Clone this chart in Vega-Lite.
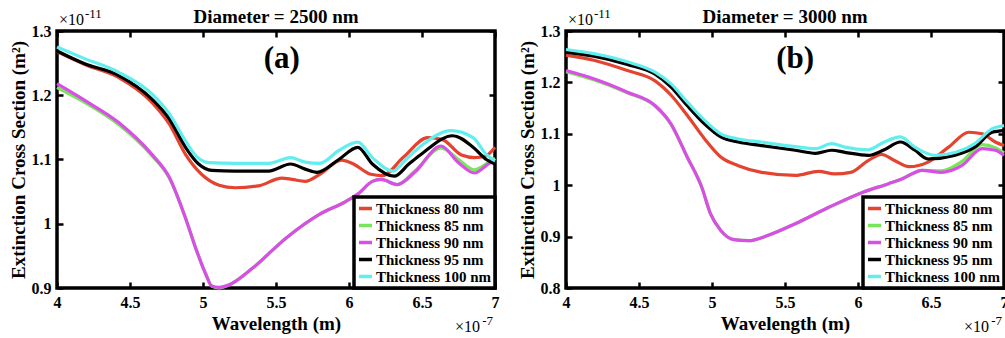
{
  "$schema": "https://vega.github.io/schema/vega-lite/v6.json",
  "padding": {"left": 7, "top": 6, "right": 0, "bottom": 0},
  "datasets": {
    "a": [
      {"s":"Thickness 80 nm","w":4.00,"v":1.268},{"s":"Thickness 80 nm","w":4.19,"v":1.248},{"s":"Thickness 80 nm","w":4.42,"v":1.228},{"s":"Thickness 80 nm","w":4.65,"v":1.189},{"s":"Thickness 80 nm","w":4.77,"v":1.155},{"s":"Thickness 80 nm","w":4.88,"v":1.108},{"s":"Thickness 80 nm","w":4.99,"v":1.077},{"s":"Thickness 80 nm","w":5.11,"v":1.060},{"s":"Thickness 80 nm","w":5.22,"v":1.056},{"s":"Thickness 80 nm","w":5.38,"v":1.059},{"s":"Thickness 80 nm","w":5.54,"v":1.071},{"s":"Thickness 80 nm","w":5.61,"v":1.069},{"s":"Thickness 80 nm","w":5.70,"v":1.066},{"s":"Thickness 80 nm","w":5.80,"v":1.077},{"s":"Thickness 80 nm","w":5.95,"v":1.099},{"s":"Thickness 80 nm","w":6.03,"v":1.093},{"s":"Thickness 80 nm","w":6.15,"v":1.077},{"s":"Thickness 80 nm","w":6.23,"v":1.075},{"s":"Thickness 80 nm","w":6.37,"v":1.103},{"s":"Thickness 80 nm","w":6.54,"v":1.134},{"s":"Thickness 80 nm","w":6.64,"v":1.131},{"s":"Thickness 80 nm","w":6.77,"v":1.107},{"s":"Thickness 80 nm","w":6.86,"v":1.103},{"s":"Thickness 80 nm","w":6.94,"v":1.106},{"s":"Thickness 80 nm","w":7.00,"v":1.119},
      {"s":"Thickness 85 nm","w":4.00,"v":1.212},{"s":"Thickness 85 nm","w":4.19,"v":1.189},{"s":"Thickness 85 nm","w":4.42,"v":1.155},{"s":"Thickness 85 nm","w":4.65,"v":1.106},{"s":"Thickness 85 nm","w":4.77,"v":1.071},{"s":"Thickness 85 nm","w":4.88,"v":1.009},{"s":"Thickness 85 nm","w":4.95,"v":0.962},{"s":"Thickness 85 nm","w":5.02,"v":0.921},{"s":"Thickness 85 nm","w":5.06,"v":0.903},{"s":"Thickness 85 nm","w":5.11,"v":0.900},{"s":"Thickness 85 nm","w":5.18,"v":0.905},{"s":"Thickness 85 nm","w":5.34,"v":0.931},{"s":"Thickness 85 nm","w":5.57,"v":0.978},{"s":"Thickness 85 nm","w":5.80,"v":1.015},{"s":"Thickness 85 nm","w":5.98,"v":1.035},{"s":"Thickness 85 nm","w":6.07,"v":1.048},{"s":"Thickness 85 nm","w":6.16,"v":1.066},{"s":"Thickness 85 nm","w":6.22,"v":1.069},{"s":"Thickness 85 nm","w":6.33,"v":1.061},{"s":"Thickness 85 nm","w":6.45,"v":1.082},{"s":"Thickness 85 nm","w":6.63,"v":1.118},{"s":"Thickness 85 nm","w":6.75,"v":1.100},{"s":"Thickness 85 nm","w":6.86,"v":1.084},{"s":"Thickness 85 nm","w":6.97,"v":1.098},{"s":"Thickness 85 nm","w":7.00,"v":1.102},
      {"s":"Thickness 90 nm","w":4.00,"v":1.218},{"s":"Thickness 90 nm","w":4.19,"v":1.192},{"s":"Thickness 90 nm","w":4.42,"v":1.158},{"s":"Thickness 90 nm","w":4.65,"v":1.108},{"s":"Thickness 90 nm","w":4.77,"v":1.072},{"s":"Thickness 90 nm","w":4.88,"v":1.009},{"s":"Thickness 90 nm","w":4.95,"v":0.962},{"s":"Thickness 90 nm","w":5.02,"v":0.921},{"s":"Thickness 90 nm","w":5.06,"v":0.903},{"s":"Thickness 90 nm","w":5.11,"v":0.901},{"s":"Thickness 90 nm","w":5.18,"v":0.905},{"s":"Thickness 90 nm","w":5.34,"v":0.931},{"s":"Thickness 90 nm","w":5.57,"v":0.978},{"s":"Thickness 90 nm","w":5.80,"v":1.015},{"s":"Thickness 90 nm","w":5.98,"v":1.035},{"s":"Thickness 90 nm","w":6.07,"v":1.048},{"s":"Thickness 90 nm","w":6.16,"v":1.066},{"s":"Thickness 90 nm","w":6.22,"v":1.069},{"s":"Thickness 90 nm","w":6.33,"v":1.061},{"s":"Thickness 90 nm","w":6.45,"v":1.080},{"s":"Thickness 90 nm","w":6.63,"v":1.121},{"s":"Thickness 90 nm","w":6.75,"v":1.095},{"s":"Thickness 90 nm","w":6.86,"v":1.079},{"s":"Thickness 90 nm","w":6.97,"v":1.095},{"s":"Thickness 90 nm","w":7.00,"v":1.097},
      {"s":"Thickness 95 nm","w":4.00,"v":1.269},{"s":"Thickness 95 nm","w":4.19,"v":1.249},{"s":"Thickness 95 nm","w":4.42,"v":1.231},{"s":"Thickness 95 nm","w":4.65,"v":1.194},{"s":"Thickness 95 nm","w":4.77,"v":1.163},{"s":"Thickness 95 nm","w":4.88,"v":1.119},{"s":"Thickness 95 nm","w":4.97,"v":1.093},{"s":"Thickness 95 nm","w":5.06,"v":1.083},{"s":"Thickness 95 nm","w":5.22,"v":1.082},{"s":"Thickness 95 nm","w":5.45,"v":1.082},{"s":"Thickness 95 nm","w":5.60,"v":1.093},{"s":"Thickness 95 nm","w":5.70,"v":1.085},{"s":"Thickness 95 nm","w":5.78,"v":1.080},{"s":"Thickness 95 nm","w":5.93,"v":1.100},{"s":"Thickness 95 nm","w":6.06,"v":1.119},{"s":"Thickness 95 nm","w":6.16,"v":1.093},{"s":"Thickness 95 nm","w":6.31,"v":1.074},{"s":"Thickness 95 nm","w":6.41,"v":1.093},{"s":"Thickness 95 nm","w":6.51,"v":1.111},{"s":"Thickness 95 nm","w":6.71,"v":1.137},{"s":"Thickness 95 nm","w":6.85,"v":1.119},{"s":"Thickness 95 nm","w":6.94,"v":1.100},{"s":"Thickness 95 nm","w":7.00,"v":1.093},
      {"s":"Thickness 100 nm","w":4.00,"v":1.275},{"s":"Thickness 100 nm","w":4.19,"v":1.257},{"s":"Thickness 100 nm","w":4.42,"v":1.236},{"s":"Thickness 100 nm","w":4.65,"v":1.202},{"s":"Thickness 100 nm","w":4.77,"v":1.171},{"s":"Thickness 100 nm","w":4.88,"v":1.129},{"s":"Thickness 100 nm","w":4.95,"v":1.106},{"s":"Thickness 100 nm","w":5.04,"v":1.095},{"s":"Thickness 100 nm","w":5.22,"v":1.094},{"s":"Thickness 100 nm","w":5.45,"v":1.094},{"s":"Thickness 100 nm","w":5.60,"v":1.103},{"s":"Thickness 100 nm","w":5.70,"v":1.096},{"s":"Thickness 100 nm","w":5.80,"v":1.094},{"s":"Thickness 100 nm","w":5.93,"v":1.114},{"s":"Thickness 100 nm","w":6.06,"v":1.127},{"s":"Thickness 100 nm","w":6.16,"v":1.103},{"s":"Thickness 100 nm","w":6.30,"v":1.082},{"s":"Thickness 100 nm","w":6.39,"v":1.100},{"s":"Thickness 100 nm","w":6.51,"v":1.124},{"s":"Thickness 100 nm","w":6.70,"v":1.145},{"s":"Thickness 100 nm","w":6.85,"v":1.134},{"s":"Thickness 100 nm","w":6.94,"v":1.108},{"s":"Thickness 100 nm","w":7.00,"v":1.098}
    ],
    "b": [
      {"s":"Thickness 80 nm","w":4.00,"v":1.253},{"s":"Thickness 80 nm","w":4.19,"v":1.243},{"s":"Thickness 80 nm","w":4.42,"v":1.223},{"s":"Thickness 80 nm","w":4.61,"v":1.203},{"s":"Thickness 80 nm","w":4.72,"v":1.175},{"s":"Thickness 80 nm","w":4.83,"v":1.136},{"s":"Thickness 80 nm","w":4.95,"v":1.090},{"s":"Thickness 80 nm","w":5.06,"v":1.055},{"s":"Thickness 80 nm","w":5.18,"v":1.038},{"s":"Thickness 80 nm","w":5.34,"v":1.025},{"s":"Thickness 80 nm","w":5.57,"v":1.019},{"s":"Thickness 80 nm","w":5.73,"v":1.027},{"s":"Thickness 80 nm","w":5.84,"v":1.022},{"s":"Thickness 80 nm","w":5.95,"v":1.025},{"s":"Thickness 80 nm","w":6.07,"v":1.048},{"s":"Thickness 80 nm","w":6.16,"v":1.060},{"s":"Thickness 80 nm","w":6.25,"v":1.048},{"s":"Thickness 80 nm","w":6.35,"v":1.036},{"s":"Thickness 80 nm","w":6.48,"v":1.045},{"s":"Thickness 80 nm","w":6.62,"v":1.074},{"s":"Thickness 80 nm","w":6.76,"v":1.103},{"s":"Thickness 80 nm","w":6.85,"v":1.100},{"s":"Thickness 80 nm","w":6.94,"v":1.084},{"s":"Thickness 80 nm","w":7.00,"v":1.077},
      {"s":"Thickness 85 nm","w":4.00,"v":1.221},{"s":"Thickness 85 nm","w":4.19,"v":1.205},{"s":"Thickness 85 nm","w":4.42,"v":1.180},{"s":"Thickness 85 nm","w":4.61,"v":1.154},{"s":"Thickness 85 nm","w":4.72,"v":1.118},{"s":"Thickness 85 nm","w":4.83,"v":1.055},{"s":"Thickness 85 nm","w":4.93,"v":0.996},{"s":"Thickness 85 nm","w":4.99,"v":0.944},{"s":"Thickness 85 nm","w":5.06,"v":0.912},{"s":"Thickness 85 nm","w":5.15,"v":0.894},{"s":"Thickness 85 nm","w":5.25,"v":0.892},{"s":"Thickness 85 nm","w":5.38,"v":0.902},{"s":"Thickness 85 nm","w":5.57,"v":0.925},{"s":"Thickness 85 nm","w":5.80,"v":0.957},{"s":"Thickness 85 nm","w":6.03,"v":0.986},{"s":"Thickness 85 nm","w":6.21,"v":1.003},{"s":"Thickness 85 nm","w":6.30,"v":1.012},{"s":"Thickness 85 nm","w":6.44,"v":1.029},{"s":"Thickness 85 nm","w":6.57,"v":1.028},{"s":"Thickness 85 nm","w":6.71,"v":1.046},{"s":"Thickness 85 nm","w":6.85,"v":1.079},{"s":"Thickness 85 nm","w":6.94,"v":1.073},{"s":"Thickness 85 nm","w":7.00,"v":1.063},
      {"s":"Thickness 90 nm","w":4.00,"v":1.223},{"s":"Thickness 90 nm","w":4.19,"v":1.207},{"s":"Thickness 90 nm","w":4.42,"v":1.181},{"s":"Thickness 90 nm","w":4.61,"v":1.155},{"s":"Thickness 90 nm","w":4.72,"v":1.119},{"s":"Thickness 90 nm","w":4.83,"v":1.055},{"s":"Thickness 90 nm","w":4.93,"v":0.996},{"s":"Thickness 90 nm","w":4.99,"v":0.944},{"s":"Thickness 90 nm","w":5.06,"v":0.912},{"s":"Thickness 90 nm","w":5.15,"v":0.894},{"s":"Thickness 90 nm","w":5.25,"v":0.892},{"s":"Thickness 90 nm","w":5.38,"v":0.902},{"s":"Thickness 90 nm","w":5.57,"v":0.925},{"s":"Thickness 90 nm","w":5.80,"v":0.957},{"s":"Thickness 90 nm","w":6.03,"v":0.986},{"s":"Thickness 90 nm","w":6.21,"v":1.003},{"s":"Thickness 90 nm","w":6.30,"v":1.012},{"s":"Thickness 90 nm","w":6.44,"v":1.029},{"s":"Thickness 90 nm","w":6.57,"v":1.025},{"s":"Thickness 90 nm","w":6.71,"v":1.038},{"s":"Thickness 90 nm","w":6.85,"v":1.071},{"s":"Thickness 90 nm","w":6.94,"v":1.068},{"s":"Thickness 90 nm","w":7.00,"v":1.058},
      {"s":"Thickness 95 nm","w":4.00,"v":1.259},{"s":"Thickness 95 nm","w":4.19,"v":1.251},{"s":"Thickness 95 nm","w":4.42,"v":1.235},{"s":"Thickness 95 nm","w":4.61,"v":1.216},{"s":"Thickness 95 nm","w":4.72,"v":1.191},{"s":"Thickness 95 nm","w":4.83,"v":1.155},{"s":"Thickness 95 nm","w":4.95,"v":1.119},{"s":"Thickness 95 nm","w":5.06,"v":1.094},{"s":"Thickness 95 nm","w":5.18,"v":1.084},{"s":"Thickness 95 nm","w":5.34,"v":1.077},{"s":"Thickness 95 nm","w":5.57,"v":1.068},{"s":"Thickness 95 nm","w":5.71,"v":1.062},{"s":"Thickness 95 nm","w":5.82,"v":1.068},{"s":"Thickness 95 nm","w":5.91,"v":1.064},{"s":"Thickness 95 nm","w":6.07,"v":1.058},{"s":"Thickness 95 nm","w":6.18,"v":1.069},{"s":"Thickness 95 nm","w":6.29,"v":1.084},{"s":"Thickness 95 nm","w":6.39,"v":1.068},{"s":"Thickness 95 nm","w":6.48,"v":1.051},{"s":"Thickness 95 nm","w":6.66,"v":1.058},{"s":"Thickness 95 nm","w":6.80,"v":1.074},{"s":"Thickness 95 nm","w":6.92,"v":1.103},{"s":"Thickness 95 nm","w":7.00,"v":1.106},
      {"s":"Thickness 100 nm","w":4.00,"v":1.264},{"s":"Thickness 100 nm","w":4.19,"v":1.256},{"s":"Thickness 100 nm","w":4.42,"v":1.240},{"s":"Thickness 100 nm","w":4.61,"v":1.220},{"s":"Thickness 100 nm","w":4.72,"v":1.197},{"s":"Thickness 100 nm","w":4.83,"v":1.162},{"s":"Thickness 100 nm","w":4.95,"v":1.126},{"s":"Thickness 100 nm","w":5.06,"v":1.100},{"s":"Thickness 100 nm","w":5.18,"v":1.090},{"s":"Thickness 100 nm","w":5.34,"v":1.084},{"s":"Thickness 100 nm","w":5.57,"v":1.075},{"s":"Thickness 100 nm","w":5.71,"v":1.071},{"s":"Thickness 100 nm","w":5.82,"v":1.081},{"s":"Thickness 100 nm","w":5.91,"v":1.074},{"s":"Thickness 100 nm","w":6.07,"v":1.069},{"s":"Thickness 100 nm","w":6.18,"v":1.084},{"s":"Thickness 100 nm","w":6.29,"v":1.094},{"s":"Thickness 100 nm","w":6.39,"v":1.074},{"s":"Thickness 100 nm","w":6.53,"v":1.058},{"s":"Thickness 100 nm","w":6.67,"v":1.064},{"s":"Thickness 100 nm","w":6.80,"v":1.081},{"s":"Thickness 100 nm","w":6.92,"v":1.110},{"s":"Thickness 100 nm","w":7.00,"v":1.116}
    ]
  },
  "config": {
    "font": "Liberation Serif",
    "view": {"stroke": "black", "strokeWidth": 3.5},
    "concat": {"spacing": 12},
    "axis": {"grid": false, "domain": false, "ticks": true, "tickColor": "black", "tickWidth": 2.5, "tickSize": -6, "labelFont": "Liberation Serif", "labelFontSize": 16, "labelFontWeight": "bold", "labelColor": "black", "labelPadding": 12, "labelFlush": false, "titleFont": "Liberation Serif", "titleFontSize": 19, "titleFontWeight": "bold", "titleColor": "black"},
    "legend": {"orient": "bottom-right", "offset": 0, "fillColor": "white", "strokeColor": "black", "strokeWidth": 3.5, "padding": 3, "labelFont": "Liberation Serif", "labelFontSize": 15, "labelFontWeight": "bold", "labelColor": "black", "labelLimit": 0, "labelOffset": 2, "symbolType": "stroke", "symbolStrokeWidth": 3.5, "symbolSize": 169, "rowPadding": 0}
  },
  "resolve": {"scale": {"color": "independent"}, "legend": {"color": "independent"}},
  "hconcat": [
    {
      "width": 438, "height": 257,
      "data": {"name": "a"},
      "resolve": {"axis": {"x": "independent", "y": "independent"}},
      "layer": [
        {
          "mark": {"type": "line", "interpolate": "monotone", "strokeWidth": 3.2},
          "encoding": {
            "x": {"field": "w", "type": "quantitative", "scale": {"domain": [4, 7], "nice": false, "zero": false}, "axis": {"orient": "bottom", "values": [4, 4.5, 5, 5.5, 6, 6.5, 7], "format": "~g", "title": "Wavelength (m)", "titlePadding": 4}},
            "y": {"field": "v", "type": "quantitative", "scale": {"domain": [0.9, 1.3], "nice": false, "zero": false}, "axis": {"orient": "left", "values": [0.9, 1, 1.1, 1.2, 1.3], "format": "~g", "title": "Extinction Cross Section (m²)", "titlePadding": 3}},
            "color": {"field": "s", "type": "nominal", "scale": {"domain": ["Thickness 80 nm", "Thickness 85 nm", "Thickness 90 nm", "Thickness 95 nm", "Thickness 100 nm"], "range": ["#e3432f", "#78e65a", "#d94ee6", "#000000", "#62eeee"]}, "legend": {"title": null, "labelFont": "Liberation Serif", "labelFontWeight": "bold", "labelFontSize": 15}}
          }
        },
        {
          "mark": {"type": "point", "opacity": 0},
          "encoding": {
            "x": {"field": "w", "type": "quantitative", "axis": {"orient": "top", "values": [4, 4.5, 5, 5.5, 6, 6.5, 7], "labels": false, "title": null}},
            "y": {"field": "v", "type": "quantitative", "axis": {"orient": "right", "values": [0.9, 1, 1.1, 1.2, 1.3], "labels": false, "title": null}}
          }
        },
        {
          "data": {"values": [{}]},
          "mark": {"type": "text", "text": "Diameter = 2500 nm", "font": "Liberation Serif", "fontSize": 19, "fontWeight": "bold", "align": "center", "baseline": "alphabetic", "dy": -8, "color": "black"},
          "encoding": {"x": {"datum": 5.5, "type": "quantitative", "axis": null}, "y": {"datum": 1.3, "type": "quantitative", "axis": null}}
        },
        {
          "data": {"values": [{}]},
          "mark": {"type": "text", "text": "(a)", "font": "Liberation Serif", "fontSize": 31, "fontWeight": "bold", "align": "center", "baseline": "middle", "color": "black"},
          "encoding": {"x": {"datum": 5.54, "type": "quantitative", "axis": null}, "y": {"datum": 1.257, "type": "quantitative", "axis": null}}
        },
        {
          "data": {"values": [{}]},
          "mark": {"type": "text", "text": "×10", "font": "Liberation Serif", "fontSize": 16, "align": "left", "baseline": "alphabetic", "dx": 2, "dy": -6, "color": "black"},
          "encoding": {"x": {"datum": 4, "type": "quantitative", "axis": null}, "y": {"datum": 1.3, "type": "quantitative", "axis": null}}
        },
        {
          "data": {"values": [{}]},
          "mark": {"type": "text", "text": "-11", "font": "Liberation Serif", "fontSize": 13, "align": "left", "baseline": "alphabetic", "dx": 28, "dy": -13, "color": "black"},
          "encoding": {"x": {"datum": 4, "type": "quantitative", "axis": null}, "y": {"datum": 1.3, "type": "quantitative", "axis": null}}
        },
        {
          "data": {"values": [{}]},
          "mark": {"type": "text", "text": "×10", "font": "Liberation Serif", "fontSize": 16, "align": "right", "baseline": "alphabetic", "dx": -15, "dy": 44, "color": "black"},
          "encoding": {"x": {"datum": 7, "type": "quantitative", "axis": null}, "y": {"datum": 0.9, "type": "quantitative", "axis": null}}
        },
        {
          "data": {"values": [{}]},
          "mark": {"type": "text", "text": "-7", "font": "Liberation Serif", "fontSize": 13, "align": "right", "baseline": "alphabetic", "dx": -2, "dy": 37, "color": "black"},
          "encoding": {"x": {"datum": 7, "type": "quantitative", "axis": null}, "y": {"datum": 0.9, "type": "quantitative", "axis": null}}
        }
      ]
    },
    {
      "width": 438, "height": 257,
      "data": {"name": "b"},
      "resolve": {"axis": {"x": "independent", "y": "independent"}},
      "layer": [
        {
          "mark": {"type": "line", "interpolate": "monotone", "strokeWidth": 3.2},
          "encoding": {
            "x": {"field": "w", "type": "quantitative", "scale": {"domain": [4, 7], "nice": false, "zero": false}, "axis": {"orient": "bottom", "values": [4, 4.5, 5, 5.5, 6, 6.5, 7], "format": "~g", "title": "Wavelength (m)", "titlePadding": 4}},
            "y": {"field": "v", "type": "quantitative", "scale": {"domain": [0.8, 1.3], "nice": false, "zero": false}, "axis": {"orient": "left", "values": [0.8, 0.9, 1, 1.1, 1.2, 1.3], "format": "~g", "title": "Extinction Cross Section (m²)", "titlePadding": 3}},
            "color": {"field": "s", "type": "nominal", "scale": {"domain": ["Thickness 80 nm", "Thickness 85 nm", "Thickness 90 nm", "Thickness 95 nm", "Thickness 100 nm"], "range": ["#e3432f", "#78e65a", "#d94ee6", "#000000", "#62eeee"]}, "legend": {"title": null, "labelFont": "Liberation Serif", "labelFontWeight": "bold", "labelFontSize": 15}}
          }
        },
        {
          "mark": {"type": "point", "opacity": 0},
          "encoding": {
            "x": {"field": "w", "type": "quantitative", "axis": {"orient": "top", "values": [4, 4.5, 5, 5.5, 6, 6.5, 7], "labels": false, "title": null}},
            "y": {"field": "v", "type": "quantitative", "axis": {"orient": "right", "values": [0.8, 0.9, 1, 1.1, 1.2, 1.3], "labels": false, "title": null}}
          }
        },
        {
          "data": {"values": [{}]},
          "mark": {"type": "text", "text": "Diameter = 3000 nm", "font": "Liberation Serif", "fontSize": 19, "fontWeight": "bold", "align": "center", "baseline": "alphabetic", "dy": -8, "color": "black"},
          "encoding": {"x": {"datum": 5.5, "type": "quantitative", "axis": null}, "y": {"datum": 1.3, "type": "quantitative", "axis": null}}
        },
        {
          "data": {"values": [{}]},
          "mark": {"type": "text", "text": "(b)", "font": "Liberation Serif", "fontSize": 31, "fontWeight": "bold", "align": "center", "baseline": "middle", "color": "black"},
          "encoding": {"x": {"datum": 5.57, "type": "quantitative", "axis": null}, "y": {"datum": 1.246, "type": "quantitative", "axis": null}}
        },
        {
          "data": {"values": [{}]},
          "mark": {"type": "text", "text": "×10", "font": "Liberation Serif", "fontSize": 16, "align": "left", "baseline": "alphabetic", "dx": 2, "dy": -6, "color": "black"},
          "encoding": {"x": {"datum": 4, "type": "quantitative", "axis": null}, "y": {"datum": 1.3, "type": "quantitative", "axis": null}}
        },
        {
          "data": {"values": [{}]},
          "mark": {"type": "text", "text": "-11", "font": "Liberation Serif", "fontSize": 13, "align": "left", "baseline": "alphabetic", "dx": 28, "dy": -13, "color": "black"},
          "encoding": {"x": {"datum": 4, "type": "quantitative", "axis": null}, "y": {"datum": 1.3, "type": "quantitative", "axis": null}}
        },
        {
          "data": {"values": [{}]},
          "mark": {"type": "text", "text": "×10", "font": "Liberation Serif", "fontSize": 16, "align": "right", "baseline": "alphabetic", "dx": -15, "dy": 44, "color": "black"},
          "encoding": {"x": {"datum": 7, "type": "quantitative", "axis": null}, "y": {"datum": 0.8, "type": "quantitative", "axis": null}}
        },
        {
          "data": {"values": [{}]},
          "mark": {"type": "text", "text": "-7", "font": "Liberation Serif", "fontSize": 13, "align": "right", "baseline": "alphabetic", "dx": -2, "dy": 37, "color": "black"},
          "encoding": {"x": {"datum": 7, "type": "quantitative", "axis": null}, "y": {"datum": 0.8, "type": "quantitative", "axis": null}}
        }
      ]
    }
  ]
}
